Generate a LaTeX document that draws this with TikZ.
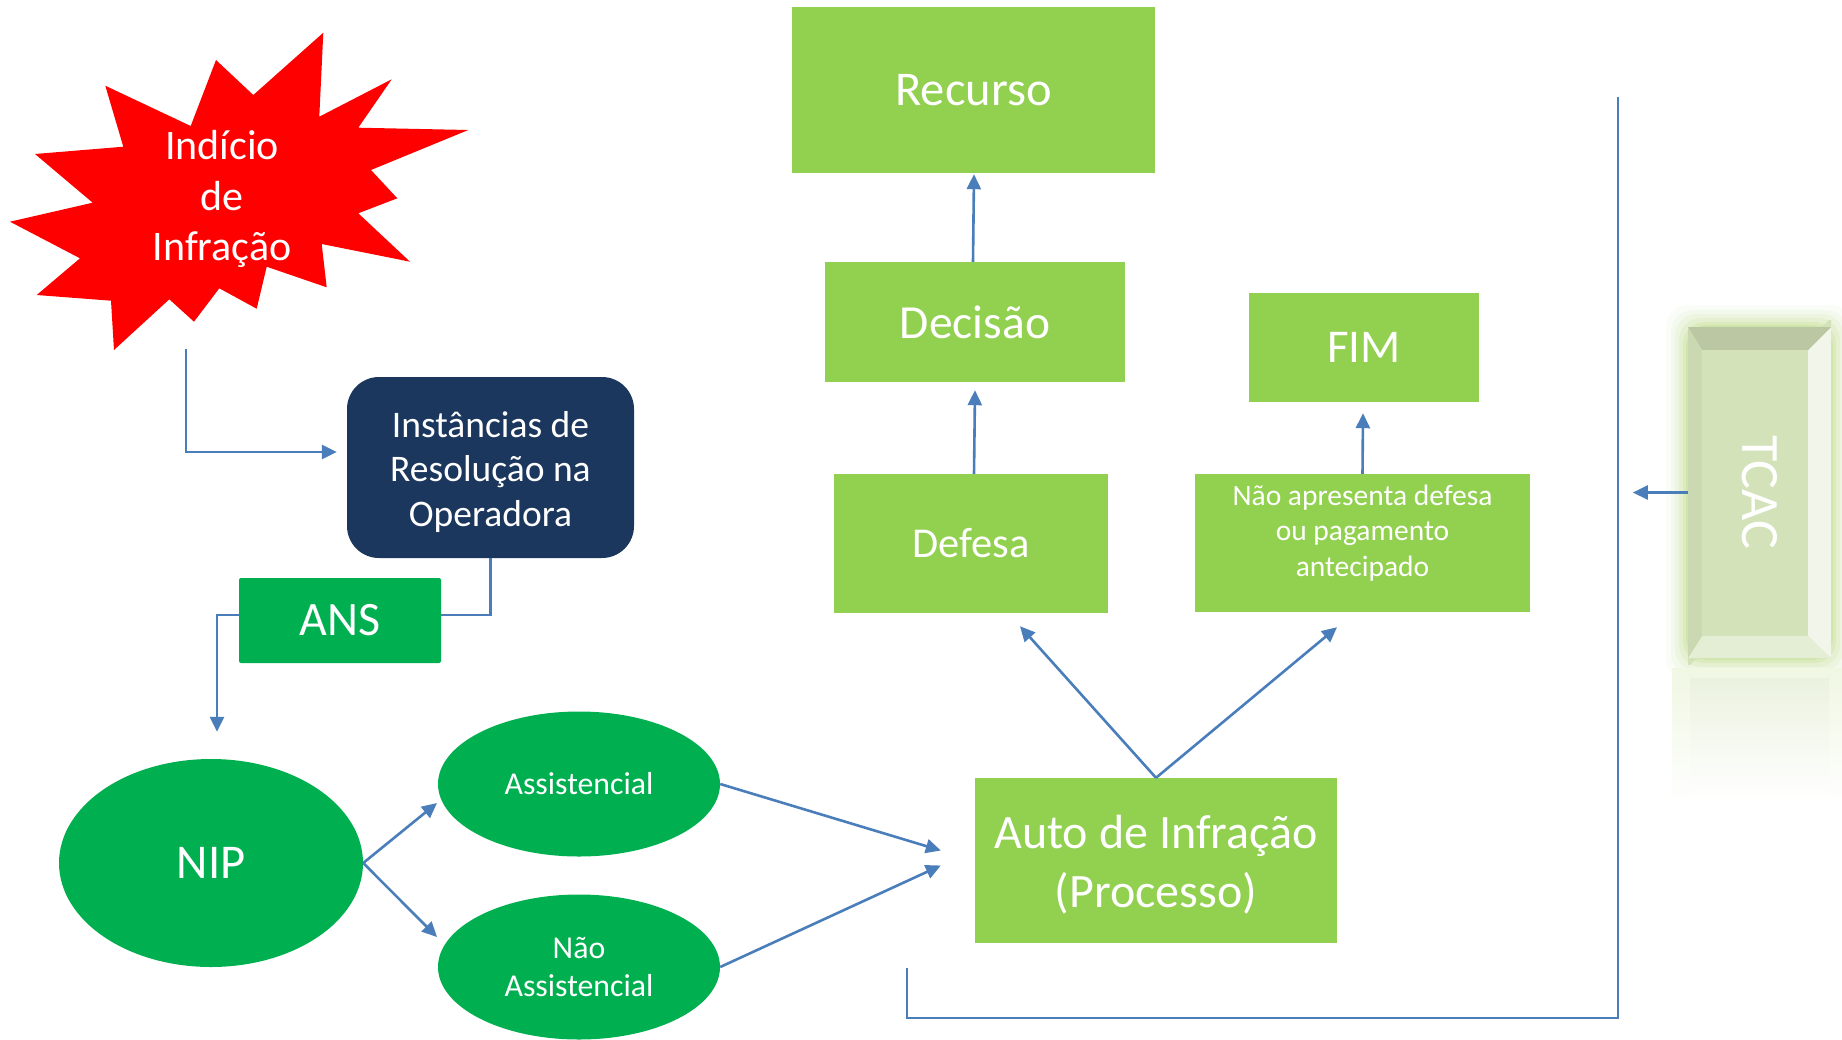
\documentclass[tikz,border=0pt]{standalone}
\usepackage{fontspec}
\setmainfont{Carlito}
\usetikzlibrary{arrows.meta,shapes.geometric,calc}
\definecolor{lgreen}{HTML}{92D050}
\definecolor{dgreen}{HTML}{00B050}
\definecolor{navy}{HTML}{1C375E}
\definecolor{connc}{HTML}{4A7EBB}
\definecolor{tcacfill}{HTML}{D3E2B8}
\definecolor{tcacglow}{HTML}{B9DA7E}
\begin{document}
\begin{tikzpicture}[x=1pt,y=-1pt,
  lbox/.style={rectangle, fill=lgreen, text=white, inner sep=0pt, align=center},
  ell/.style={ellipse, fill=dgreen, text=white, inner sep=0pt, align=center},
  conn/.style={draw=connc, line width=2.6pt, -{Triangle[length=15pt,width=14pt]}},
  plainline/.style={draw=connc, line width=2.6pt},
]
\useasboundingbox (0,0) rectangle (1842,1039);
\fill[white] (0,0) rectangle (1842,1039);

% ---- star
\fill[red] (323.3,32.7) -- (319.3,116.7) -- (391.7,79.3) -- (358.3,127.7) -- (468.3,130)
  -- (371,170) -- (397.3,198.3) -- (358.3,213.3) -- (410,261.7) -- (321.7,244)
  -- (326.7,287.3) -- (266.7,266.7) -- (256.7,308.7) -- (219.3,288.3) -- (194,321.7)
  -- (169.3,299.3) -- (114,350) -- (111,300.7) -- (36.7,295) -- (80,258.3)
  -- (10,221.7) -- (92.7,202.7) -- (35,154) -- (123.3,146.7) -- (105.3,85.7)
  -- (190.7,126) -- (216,60) -- (253.3,95) -- cycle;
\node[text=white, align=center, inner sep=0pt, font=\fontsize{42}{50.5}\selectfont] (star) at (222,199) {Indício\\de\\Infração};
\coordinate (starbot) at (186,349);

% ---- left part
\node[rectangle, rounded corners=32pt, fill=navy, text=white, align=center, inner sep=0pt,
  minimum width=287pt, minimum height=181pt] (inst) at (490.5,467.5) {};
\node[text=white, align=center, inner sep=0pt, font=\fontsize{37.5}{44.5}\selectfont] (insttext) at ($(inst.center)+(0,4)$)
  {Instâncias de\\Resolução na\\Operadora};
\node[rectangle, rounded corners=2pt, fill=dgreen, text=white, inner sep=0pt,
  minimum width=202pt, minimum height=85pt, font=\fontsize{48}{56}\selectfont] (ans) at (340,620.5) {ANS};
\node[ell, minimum width=304pt, minimum height=208pt, font=\fontsize{48.5}{56}\selectfont] (nip) at (211,863) {NIP};
\node[ell, minimum width=282pt, minimum height=145pt, font=\fontsize{31.8}{38.5}\selectfont] (as) at (579,784) {Assistencial};
\node[ell, minimum width=282pt, minimum height=145pt, font=\fontsize{31.8}{38.5}\selectfont] (nas) at (579,967) {Não\\Assistencial};

% ---- right part
\node[lbox, minimum width=363pt, minimum height=166pt, font=\fontsize{48.5}{56}\selectfont] (rec) at (973.5,90) {Recurso};
\node[lbox, minimum width=300pt, minimum height=120pt, font=\fontsize{47.5}{56}\selectfont] (dec) at (975,322) {Decisão};
\node[lbox, minimum width=230pt, minimum height=109pt, font=\fontsize{47}{56}\selectfont] (fim) at (1364,347.5) {FIM};
\node[lbox, minimum width=274pt, minimum height=139pt, font=\fontsize{42.5}{50}\selectfont] (def) at (971,543.5) {Defesa};
\node[lbox, minimum width=335pt, minimum height=138pt] (na) at (1362.5,543) {};
\node[text=white, align=center, inner sep=0pt, font=\fontsize{29.5}{35.5}\selectfont] (natext) at ($(na.center)+(0,-10)$)
  {Não apresenta defesa\\ou pagamento\\antecipado};
\node[lbox, minimum width=362pt, minimum height=165pt] (auto) at (1156,860.5) {};
\node[text=white, align=center, inner sep=0pt, font=\fontsize{48}{59}\selectfont] (autotext) at ($(auto.center)+(0,4)$)
  {Auto de Infração\\(Processo)};

% ---- TCAC
\foreach \d/\o in {22/0.06,17/0.08,13/0.11,9/0.15,5/0.22,2/0.3}{
  \fill[tcacglow, opacity=\o, rounded corners=22pt] (1688-\d,327-\d) rectangle (1831+\d,658+\d);
}
\shade[top color=tcacglow!22, bottom color=white] (1672,668) rectangle (1842,805);
\shade[top color=tcacfill!45, bottom color=white] (1690,678) rectangle (1829,800);
\begin{scope}
\path[clip] (1688,327) -- (1816,327) arc[start angle=90, end angle=0, radius=15] -- (1831,658)
  -- (1703,658) arc[start angle=270, end angle=180, radius=15] -- cycle;
\fill[tcacfill] (1680,320) rectangle (1840,665);
\fill[white!70!tcacfill] (1831,327) -- (1831,658) -- (1808,636) -- (1808,350) -- cycle;
\fill[tcacfill!88!black] (1688,327) -- (1831,327) -- (1808,350) -- (1702,350) -- cycle;
\fill[tcacfill!60!white] (1688,658) -- (1831,658) -- (1808,636) -- (1702,636) -- cycle;
\fill[tcacfill!96!black] (1688,327) -- (1702,350) -- (1702,636) -- (1688,658) -- cycle;
\fill[tcacfill] (1702,350) rectangle (1808,636);
\end{scope}
\node[rectangle, inner sep=0pt, minimum width=143pt, minimum height=331pt] (tcac) at (1759.5,492.5) {};
\node[rotate=-90, text=white, inner sep=0pt, font=\fontsize{54}{60}\selectfont] (tcactext) at (tcac.center) {TCAC};

% ---- connectors
\draw[conn] (starbot) |- ($(inst.west)+(-10,-15.5)$);
\draw[plainline] (inst.south) |- ($(ans.east)+(0,-5.5)$);
\draw[conn] ($(ans.west)+(0,-5.5)$) -| ($(nip.north)+(6,-27)$);
\draw[conn] (nip.east) -- ($(as.center)+(-142,19)$);
\draw[conn] (nip.east) -- ($(nas.center)+(-142,-30)$);
\draw[conn] (as.east) -- ($(auto.west)+(-34,-10)$);
\draw[conn] (nas.east) -- ($(auto.west)+(-34,5)$);
\draw[conn] (auto.north) -- ($(def.south)+(49,13)$);
\draw[conn] (auto.north) -- ($(na.south)+(-25.5,15)$);
\draw[conn] ($(def.north)+(3,0)$) -- ($(dec.south)+(0,8)$);
\draw[conn] ($(dec.north)+(-2,0)$) -- ($(rec.south)+(0.5,1)$);
\draw[conn] (na.north) -- ($(fim.south)+(-1,11)$);
\draw[conn] (tcac.west) -- ($(tcac.west)+(-55,0)$);
\coordinate (brA) at (907,968);
\coordinate (brC) at (1618,1018);
\coordinate (brB) at (1618,97);
\draw[plainline, line width=2.2pt] (brA) |- (brC) -- (brB);
\end{tikzpicture}
\end{document}
